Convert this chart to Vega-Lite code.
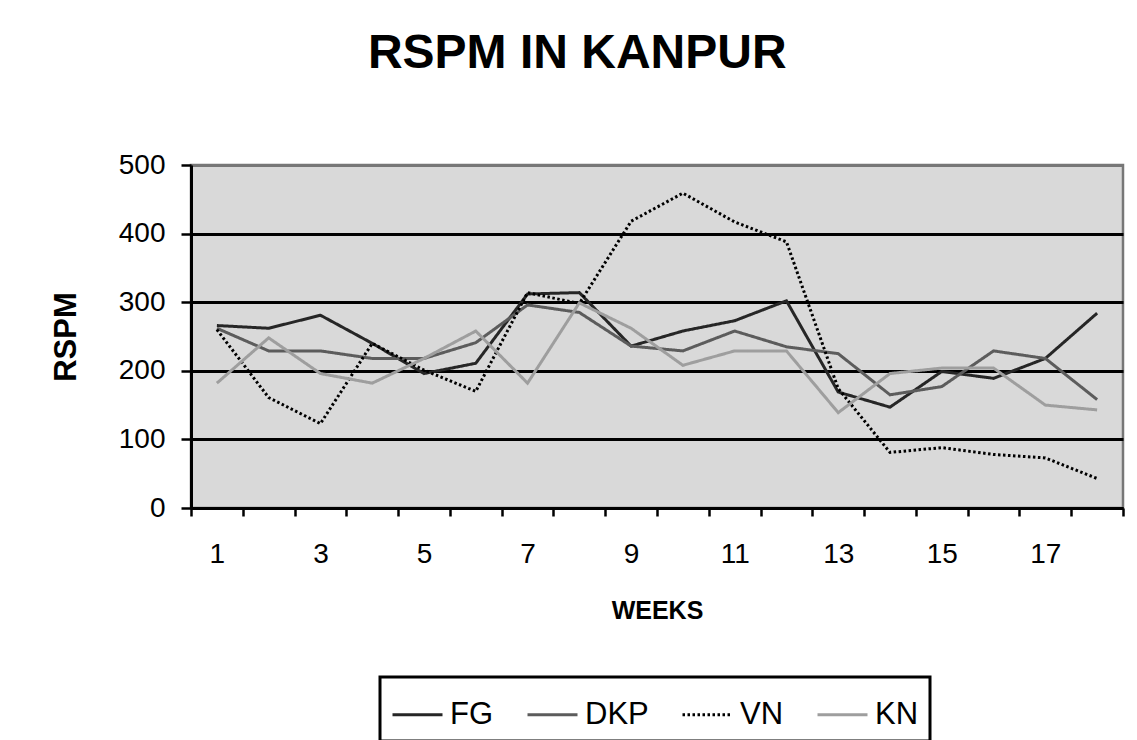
{
  "$schema": "https://vega.github.io/schema/vega-lite/v6.json",
  "width": 932,
  "height": 343,
  "padding": {"left": 50, "top": 30, "right": 5, "bottom": 0},
  "background": "white",
  "title": {"text": "RSPM IN KANPUR", "fontSize": 48, "font": "Liberation Sans", "fontWeight": "bold", "color": "black", "offset": 73, "anchor": "middle", "frame": "bounds", "dx": -10},
  "config": {
    "view": {"fill": "#d9d9d9", "stroke": "#777777", "strokeWidth": 2.5},
    "font": "Liberation Sans",
    "legend": {"strokeWidth": 3}
  },
  "data": {"values": [
    {"week": 1, "series": "FG", "rspm": 266}, {"week": 2, "series": "FG", "rspm": 262}, {"week": 3, "series": "FG", "rspm": 281}, {"week": 4, "series": "FG", "rspm": 240}, {"week": 5, "series": "FG", "rspm": 196}, {"week": 6, "series": "FG", "rspm": 211}, {"week": 7, "series": "FG", "rspm": 312}, {"week": 8, "series": "FG", "rspm": 314}, {"week": 9, "series": "FG", "rspm": 236}, {"week": 10, "series": "FG", "rspm": 258}, {"week": 11, "series": "FG", "rspm": 273}, {"week": 12, "series": "FG", "rspm": 302}, {"week": 13, "series": "FG", "rspm": 169}, {"week": 14, "series": "FG", "rspm": 147}, {"week": 15, "series": "FG", "rspm": 199}, {"week": 16, "series": "FG", "rspm": 189}, {"week": 17, "series": "FG", "rspm": 218}, {"week": 18, "series": "FG", "rspm": 284},
    {"week": 1, "series": "DKP", "rspm": 262}, {"week": 2, "series": "DKP", "rspm": 229}, {"week": 3, "series": "DKP", "rspm": 229}, {"week": 4, "series": "DKP", "rspm": 218}, {"week": 5, "series": "DKP", "rspm": 218}, {"week": 6, "series": "DKP", "rspm": 241}, {"week": 7, "series": "DKP", "rspm": 296}, {"week": 8, "series": "DKP", "rspm": 285}, {"week": 9, "series": "DKP", "rspm": 236}, {"week": 10, "series": "DKP", "rspm": 229}, {"week": 11, "series": "DKP", "rspm": 258}, {"week": 12, "series": "DKP", "rspm": 235}, {"week": 13, "series": "DKP", "rspm": 225}, {"week": 14, "series": "DKP", "rspm": 165}, {"week": 15, "series": "DKP", "rspm": 177}, {"week": 16, "series": "DKP", "rspm": 229}, {"week": 17, "series": "DKP", "rspm": 218}, {"week": 18, "series": "DKP", "rspm": 158},
    {"week": 1, "series": "VN", "rspm": 260}, {"week": 2, "series": "VN", "rspm": 161}, {"week": 3, "series": "VN", "rspm": 123}, {"week": 4, "series": "VN", "rspm": 240}, {"week": 5, "series": "VN", "rspm": 201}, {"week": 6, "series": "VN", "rspm": 170}, {"week": 7, "series": "VN", "rspm": 314}, {"week": 8, "series": "VN", "rspm": 298}, {"week": 9, "series": "VN", "rspm": 418}, {"week": 10, "series": "VN", "rspm": 459}, {"week": 11, "series": "VN", "rspm": 417}, {"week": 12, "series": "VN", "rspm": 388}, {"week": 13, "series": "VN", "rspm": 174}, {"week": 14, "series": "VN", "rspm": 81}, {"week": 15, "series": "VN", "rspm": 88}, {"week": 16, "series": "VN", "rspm": 78}, {"week": 17, "series": "VN", "rspm": 73}, {"week": 18, "series": "VN", "rspm": 43},
    {"week": 1, "series": "KN", "rspm": 182}, {"week": 2, "series": "KN", "rspm": 248}, {"week": 3, "series": "KN", "rspm": 196}, {"week": 4, "series": "KN", "rspm": 182}, {"week": 5, "series": "KN", "rspm": 218}, {"week": 6, "series": "KN", "rspm": 258}, {"week": 7, "series": "KN", "rspm": 182}, {"week": 8, "series": "KN", "rspm": 299}, {"week": 9, "series": "KN", "rspm": 262}, {"week": 10, "series": "KN", "rspm": 208}, {"week": 11, "series": "KN", "rspm": 229}, {"week": 12, "series": "KN", "rspm": 229}, {"week": 13, "series": "KN", "rspm": 139}, {"week": 14, "series": "KN", "rspm": 196}, {"week": 15, "series": "KN", "rspm": 204}, {"week": 16, "series": "KN", "rspm": 204}, {"week": 17, "series": "KN", "rspm": 150}, {"week": 18, "series": "KN", "rspm": 143}
  ]},
  "mark": {"type": "line", "strokeWidth": 3},
  "encoding": {
    "x": {
      "field": "week", "type": "ordinal",
      "scale": {"type": "band", "paddingInner": 0, "paddingOuter": 0},
      "axis": {
        "title": "WEEKS", "titleFontSize": 25, "titleFontWeight": "bold", "titleColor": "black", "titlePadding": 30,
        "labelAngle": 0, "labelFontSize": 28, "labelColor": "black", "labelPadding": 24,
        "labelExpr": "datum.value % 2 == 1 ? datum.label : ''",
        "tickBand": "extent", "tickSize": 8, "tickWidth": 2.5, "tickColor": "black",
        "domainColor": "black", "domainWidth": 3, "grid": false
      }
    },
    "y": {
      "field": "rspm", "type": "quantitative",
      "scale": {"domain": [0, 500], "nice": false},
      "axis": {
        "title": "RSPM", "titleFontSize": 31, "titleFontWeight": "bold", "titleColor": "black", "titlePadding": 36,
        "values": [0, 100, 200, 300, 400, 500],
        "labelFontSize": 28, "labelColor": "black", "labelPadding": 16,
        "tickSize": 10, "tickWidth": 2.5, "tickColor": "black",
        "domainColor": "black", "domainWidth": 3,
        "grid": true, "gridWidth": 3,
        "gridColor": {"condition": {"test": "datum.value == 500", "value": "#777777"}, "value": "black"}
      }
    },
    "color": {
      "field": "series", "type": "nominal",
      "scale": {"domain": ["FG", "DKP", "VN", "KN"], "range": ["#262626", "#5c5c5c", "#000000", "#9e9e9e"]},
      "legend": {
        "title": null, "orient": "none", "legendX": 189, "legendY": 512, "direction": "horizontal",
        "strokeColor": "black", "padding": 11,
        "labelFontSize": 31, "labelColor": "black", "labelOffset": 6,
        "symbolType": "stroke", "symbolSize": 2500, "symbolStrokeWidth": 3, "columnPadding": 27
      }
    },
    "strokeDash": {
      "field": "series", "type": "nominal",
      "scale": {"domain": ["FG", "DKP", "VN", "KN"], "range": [[1, 0], [1, 0], [2.5, 2.5], [1, 0]]},
      "legend": {
        "title": null, "orient": "none", "legendX": 189, "legendY": 512, "direction": "horizontal",
        "strokeColor": "black", "padding": 11,
        "labelFontSize": 31, "labelColor": "black", "labelOffset": 6,
        "symbolType": "stroke", "symbolSize": 2500, "symbolStrokeWidth": 3, "columnPadding": 27
      }
    }
  }
}
